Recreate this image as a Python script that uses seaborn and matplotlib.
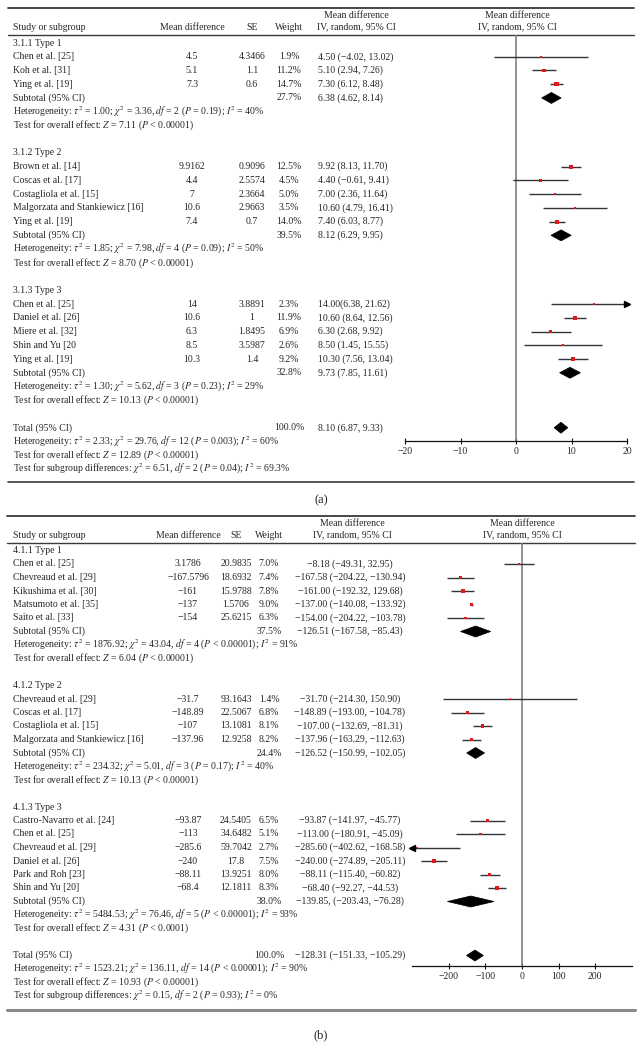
import numpy as np
import pandas as pd
import matplotlib
matplotlib.use("Agg")
import matplotlib.pyplot as plt
import seaborn as sns
from matplotlib.patches import Polygon

sns.set_theme(style="white")
plt.rcParams['font.family'] = ['Liberation Serif', 'DejaVu Serif']
plt.rcParams['mathtext.fontset'] = 'stix'
plt.rcParams['axes.unicode_minus'] = True

W, H, DPI = 643, 1053, 100
FS = 7.0
RED = "#e0181c"
LINE = "#333333"

# ------------------------------------------------------------------ panel (a) data
a_groups = ["3.1.1 Type 1", "3.1.2 Type 2", "3.1.3 Type 3"]
a_group_sizes = [3, 5, 5]
a_names = ["Chen et al. [25]", "Koh et al. [31]", "Ying et al. [19]",
           "Brown et al. [14]", "Coscas et al. [17]", "Costagliola et al. [15]",
           "Malgorzata and Stankiewicz [16]", "Ying et al. [19]",
           "Chen et al. [25]", "Daniel et al. [26]", "Miere et al. [32]",
           "Shin and Yu [20", "Ying et al. [19]"]
a_md_text = ["4.5", "5.1", "7.3", "9.9162", "4.4", "7", "10.6", "7.4",
             "14", "10.6", "6.3", "8.5", "10.3"]
a_se_text = ["4.3466", "1.1", "0.6", "0.9096", "2.5574", "2.3664", "2.9663", "0.7",
             "3.8891", "1", "1.8495", "3.5987", "1.4"]
a_weight = [1.9, 11.2, 14.7, 12.5, 4.5, 5.0, 3.5, 14.0, 2.3, 11.9, 6.9, 2.6, 9.2]
a_est = [4.50, 5.10, 7.30, 9.92, 4.40, 7.00, 10.60, 7.40, 14.00, 10.60, 6.30, 8.50, 10.30]
a_lo = [-4.02, 2.94, 6.12, 8.13, -0.61, 2.36, 4.79, 6.03, 6.38, 8.64, 2.68, 1.45, 7.56]
a_hi = [13.02, 7.26, 8.48, 11.70, 9.41, 11.64, 16.41, 8.77, 21.62, 12.56, 9.92, 15.55, 13.04]
a_ci_text = ["4.50 (−4.02, 13.02)", "5.10 (2.94, 7.26)", "7.30 (6.12, 8.48)",
             "9.92 (8.13, 11.70)", "4.40 (−0.61, 9.41)", "7.00 (2.36, 11.64)",
             "10.60 (4.79, 16.41)", "7.40 (6.03, 8.77)",
             "14.00(6.38, 21.62)", "10.60 (8.64, 12.56)", "6.30 (2.68, 9.92)",
             "8.50 (1.45, 15.55)", "10.30 (7.56, 13.04)"]
a_sub_weight = [27.7, 39.5, 32.8]
a_sub_est = [6.38, 8.12, 9.73]
a_sub_lo = [4.62, 6.29, 7.85]
a_sub_hi = [8.14, 9.95, 11.61]
a_sub_ci_text = ["6.38 (4.62, 8.14)", "8.12 (6.29, 9.95)", "9.73 (7.85, 11.61)"]
a_het = [("1.00", "3.36", "2", "= 0.19", "40%"),
         ("1.85", "7.98", "4", "= 0.09", "50%"),
         ("1.30", "5.62", "3", "= 0.23", "29%")]
a_z = [("7.11", "< 0.00001"), ("8.70", "< 0.00001"), ("10.13", "< 0.00001")]
a_total_weight = 100.0
a_total_est, a_total_lo, a_total_hi = 8.10, 6.87, 9.33
a_total_ci_text = "8.10 (6.87, 9.33)"
a_total_het = ("2.33", "29.76", "12", "= 0.003", "60%")
a_total_z = ("12.89", "< 0.00001")
a_subgroup = ("6.51", "2", "= 0.04", "69.3%")
a_ticks = [-20, -10, 0, 10, 20]

# ------------------------------------------------------------------ panel (b) data
b_groups = ["4.1.1 Type 1", "4.1.2 Type 2", "4.1.3 Type 3"]
b_group_sizes = [5, 4, 6]
b_names = ["Chen et al. [25]", "Chevreaud et al. [29]", "Kikushima et al. [30]",
           "Matsumoto et al. [35]", "Saito et al. [33]",
           "Chevreaud et al. [29]", "Coscas et al. [17]", "Costagliola et al. [15]",
           "Malgorzata and Stankiewicz [16]",
           "Castro-Navarro et al. [24]", "Chen et al. [25]", "Chevreaud et al. [29]",
           "Daniel et al. [26]", "Park and Roh [23]", "Shin and Yu [20]"]
b_md_text = ["3.1786", "−167.5796", "−161", "−137", "−154",
             "−31.7", "−148.89", "−107", "−137.96",
             "−93.87", "−113", "−285.6", "−240", "−88.11", "−68.4"]
b_se_text = ["20.9835", "18.6932", "15.9788", "1.5706", "25.6215",
             "93.1643", "22.5067", "13.1081", "12.9258",
             "24.5405", "34.6482", "59.7042", "17.8", "13.9251", "12.1811"]
b_weight = [7.0, 7.4, 7.8, 9.0, 6.3, 1.4, 6.8, 8.1, 8.2, 6.5, 5.1, 2.7, 7.5, 8.0, 8.3]
b_est = [-8.18, -167.58, -161.00, -137.00, -154.00, -31.70, -148.89, -107.00, -137.96,
         -93.87, -113.00, -285.60, -240.00, -88.11, -68.40]
b_lo = [-49.31, -204.22, -192.32, -140.08, -204.22, -214.30, -193.00, -132.69, -163.29,
        -141.97, -180.91, -402.62, -274.89, -115.40, -92.27]
b_hi = [32.95, -130.94, -129.68, -133.92, -103.78, 150.90, -104.78, -81.31, -112.63,
        -45.77, -45.09, -168.58, -205.11, -60.82, -44.53]
b_ci_text = ["−8.18 (−49.31, 32.95)", "−167.58 (−204.22, −130.94)",
             "−161.00 (−192.32, 129.68)", "−137.00 (−140.08, −133.92)",
             "−154.00 (−204.22, −103.78)",
             "−31.70 (−214.30, 150.90)", "−148.89 (−193.00, −104.78)",
             "−107.00 (−132.69, −81.31)", "−137.96 (−163.29, −112.63)",
             "−93.87 (−141.97, −45.77)", "−113.00 (−180.91, −45.09)",
             "−285.60 (−402.62, −168.58)", "−240.00 (−274.89, −205.11)",
             "−88.11 (−115.40, −60.82)", "−68.40 (−92.27, −44.53)"]
b_sub_weight = [37.5, 24.4, 38.0]
b_sub_est = [-126.51, -126.52, -139.85]
b_sub_lo = [-167.58, -150.99, -203.43]
b_sub_hi = [-85.43, -102.05, -76.28]
b_sub_ci_text = ["−126.51 (−167.58, −85.43)", "−126.52 (−150.99, −102.05)",
                 "−139.85, (−203.43, −76.28)"]
b_het = [("1876.92", "43.04", "4", "< 0.00001", "91%"),
         ("234.32", "5.01", "3", "= 0.17", "40%"),
         ("5484.53", "76.46", "5", "< 0.00001", "93%")]
b_z = [("6.04", "< 0.00001"), ("10.13", "< 0.00001"), ("4.31", "< 0.0001")]
b_total_weight = 100.0
b_total_est, b_total_lo, b_total_hi = -128.31, -151.33, -105.29
b_total_ci_text = "−128.31 (−151.33, −105.29)"
b_total_het = ("1523.21", "136.11", "14", "< 0.00001", "90%")
b_total_z = ("10.93", "< 0.00001")
b_subgroup = ("0.15", "2", "= 0.93", "0%")
b_ticks = [-200, -100, 0, 100, 200]


def het_str(h):
    tau, chi, df, p, i2 = h
    return (r"Heterogeneity: $\tau^2$ = " + tau + r"; $\chi^2$ = " + chi +
            r", $df$ = " + df + r" ($P$ " + p + r"); $I^2$ = " + i2)


def z_str(z):
    return r"Test for overall effect: $Z$ = " + z[0] + r" ($P$ " + z[1] + ")"


def sub_str(s):
    chi, df, p, i2 = s
    return (r"Test for subgroup differences: $\chi^2$ = " + chi + r", $df$ = " + df +
            r" ($P$ " + p + r"); $I^2$ = " + i2)


def layout_rows(sizes):
    rows, s = [], 0
    for g, n in enumerate(sizes):
        rows.append(("group", g))
        for _ in range(n):
            rows.append(("study", s))
            s += 1
        rows += [("sub", g), ("het", g), ("test", g), ("blank", g)]
    rows += [("total", 0), ("thet", 0), ("ttest", 0), ("tsub", 0)]
    return rows


fig = plt.figure(figsize=(W / DPI, H / DPI), dpi=DPI)
bg = fig.add_axes([0, 0, 1, 1])
bg.set_xlim(0, W)
bg.set_ylim(H, 0)
bg.axis("off")


def draw_panel(D, L):
    # rules
    bg.plot([L["xl"], L["xr"]], [L["top"], L["top"]], color="#3a3a3a", lw=1.3)
    bg.plot([L["xl"], L["xr"]], [L["hdr"], L["hdr"]], color="#3a3a3a", lw=1.0)
    bg.plot([L["xl"], L["xr"]], [L["bot"], L["bot"]], color=L["botc"], lw=L["botw"])
    # headers
    h1, h2 = L["hdr"] - 20, L["hdr"] - 8
    bg.text(13, h2, "Study or subgroup", fontsize=FS, ha="left", va="center")
    bg.text(L["c_md"], h2, "Mean difference", fontsize=FS, ha="center", va="center")
    bg.text(L["c_se"], h2, "SE", fontsize=FS, ha="center", va="center")
    bg.text(L["c_w"], h2, "Weight", fontsize=FS, ha="center", va="center")
    bg.text(L["c_cih"], h1, "Mean difference", fontsize=FS, ha="center", va="center")
    bg.text(L["c_cih"], h2, "IV, random, 95% CI", fontsize=FS, ha="center", va="center")
    bg.text(L["c_plot"], h1, "Mean difference", fontsize=FS, ha="center", va="center")
    bg.text(L["c_plot"], h2, "IV, random, 95% CI", fontsize=FS, ha="center", va="center")
    bg.text(321, L["label_y"], L["label"], fontsize=9, ha="center", va="center")

    # forest axes, y data = figure pixels
    px0, px1 = L["px"]
    ax = fig.add_axes([px0 / W, 1 - L["axis_y"] / H, (px1 - px0) / W,
                       (L["axis_y"] - L["hdr"]) / H])
    ax.set_facecolor("none")
    ax.set_xlim(*D["xlim"])
    ax.set_ylim(L["axis_y"], L["hdr"])
    for sp in ["left", "right", "top"]:
        ax.spines[sp].set_visible(False)
    ax.spines["bottom"].set_color("#111111")
    ax.spines["bottom"].set_linewidth(0.9)
    ax.set_yticks([])
    ax.set_xticks(D["ticks"])
    ax.tick_params(axis="x", direction="inout", length=5, width=0.8, color="#111111",
                   labelsize=FS, pad=1.5, bottom=True)
    ax.axvline(0, color="#808080", lw=1.2, zorder=1)

    rows = layout_rows(D["sizes"])
    ys = {}
    study_y = []
    sub_y = []
    for r, (kind, idx) in enumerate(rows):
        y = L["y0"] + r * L["dy"]
        if kind == "group":
            bg.text(13, y, D["groups"][idx], fontsize=FS, ha="left", va="center")
        elif kind == "study":
            study_y.append(y)
            bg.text(13, y, D["names"][idx], fontsize=FS, ha="left", va="center")
            bg.text(L["c_md"], y, D["md"][idx], fontsize=FS, ha="center", va="center")
            bg.text(L["c_se"], y, D["se"][idx], fontsize=FS, ha="center", va="center")
            bg.text(L["c_w"], y, f"{D['w'][idx]:.1f}%", fontsize=FS, ha="center", va="center")
            bg.text(L["c_ci"], y, D["ci"][idx], fontsize=FS, ha=L["ci_ha"], va="center")
        elif kind == "sub":
            sub_y.append(y)
            bg.text(13, y, "Subtotal (95% CI)", fontsize=FS, ha="left", va="center")
            bg.text(L["c_w"], y, f"{D['sw'][idx]:.1f}%", fontsize=FS, ha="center", va="center")
            bg.text(L["c_ci"], y, D["sci"][idx], fontsize=FS, ha=L["ci_ha"], va="center")
        elif kind == "het":
            bg.text(13, y, het_str(D["het"][idx]), fontsize=FS, ha="left", va="center")
        elif kind == "test":
            bg.text(13, y, z_str(D["z"][idx]), fontsize=FS, ha="left", va="center")
        elif kind == "total":
            ys["total"] = y
            bg.text(13, y, "Total (95% CI)", fontsize=FS, ha="left", va="center")
            bg.text(L["c_w"], y, f"{D['tw']:.1f}%", fontsize=FS, ha="center", va="center")
            bg.text(L["c_ci"], y, D["tci"], fontsize=FS, ha=L["ci_ha"], va="center")
        elif kind == "thet":
            bg.text(13, y, het_str(D["thet"]), fontsize=FS, ha="left", va="center")
        elif kind == "ttest":
            bg.text(13, y, z_str(D["tz"]), fontsize=FS, ha="left", va="center")
        elif kind == "tsub":
            bg.text(13, y, sub_str(D["tsub"]), fontsize=FS, ha="left", va="center")

    xmin, xmax = D["xlim"]
    # CI lines
    for y, lo, hi in zip(study_y, D["lo"], D["hi"]):
        ax.hlines(y, max(lo, xmin), min(hi, xmax), color=LINE, lw=1.0, zorder=2)
        if hi > xmax:
            ax.plot([xmax], [y], marker=">", ms=3.8, color="black", clip_on=False, zorder=3)
        if lo < xmin:
            ax.plot([xmin], [y], marker="<", ms=3.8, color="black", clip_on=False, zorder=3)
    # squares via seaborn
    df = pd.DataFrame({"est": D["est"], "y": study_y, "weight": D["w"]})
    sns.scatterplot(data=df, x="est", y="y", size="weight", size_norm=(0, 15),
                    sizes=(0, 15 * 0.65), marker="s", color=RED, linewidth=0,
                    legend=False, ax=ax, zorder=4, clip_on=False)
    ax.set_xlabel("")
    ax.set_ylabel("")
    ax.set_ylim(L["axis_y"], L["hdr"])
    # diamonds
    hh = 5.5
    diam = list(zip(sub_y, D["sest"], D["slo"], D["shi"])) + \
        [(ys["total"], D["test_"], D["tlo"], D["thi"])]
    for y, e, lo, hi in diam:
        ax.add_patch(Polygon([(lo, y), (e, y - hh), (hi, y), (e, y + hh)],
                             closed=True, facecolor="black", edgecolor="black",
                             lw=0.5, zorder=5))
    return ax


A = dict(groups=a_groups, sizes=a_group_sizes, names=a_names, md=a_md_text, se=a_se_text,
         w=a_weight, est=a_est, lo=a_lo, hi=a_hi, ci=a_ci_text, sw=a_sub_weight,
         sest=a_sub_est, slo=a_sub_lo, shi=a_sub_hi, sci=a_sub_ci_text, het=a_het, z=a_z,
         tw=a_total_weight, test_=a_total_est, tlo=a_total_lo, thi=a_total_hi,
         tci=a_total_ci_text, thet=a_total_het, tz=a_total_z, tsub=a_subgroup,
         ticks=a_ticks, xlim=(-20, 20))
LA = dict(top=7.5, hdr=35, bot=482, botc="#3a3a3a", botw=1.2, xl=8, xr=634,
          c_md=192, c_se=252, c_w=289, c_ci=318, ci_ha="left", c_cih=356, c_plot=517,
          label="(a)", label_y=500, px=(405, 627), axis_y=441, y0=43, dy=13.74)

B = dict(groups=b_groups, sizes=b_group_sizes, names=b_names, md=b_md_text, se=b_se_text,
         w=b_weight, est=b_est, lo=b_lo, hi=b_hi, ci=b_ci_text, sw=b_sub_weight,
         sest=b_sub_est, slo=b_sub_lo, shi=b_sub_hi, sci=b_sub_ci_text, het=b_het, z=b_z,
         tw=b_total_weight, test_=b_total_est, tlo=b_total_lo, thi=b_total_hi,
         tci=b_total_ci_text, thet=b_total_het, tz=b_total_z, tsub=b_subgroup,
         ticks=b_ticks, xlim=(-300, 300))
LB = dict(top=515.5, hdr=543, bot=1010, botc="#8a8a8a", botw=2.2, xl=7, xr=635,
          c_md=188, c_se=236, c_w=269, c_ci=350, ci_ha="center", c_cih=352, c_plot=522,
          label="(b)", label_y=1035, px=(412, 632), axis_y=966, y0=550.5, dy=13.5)

draw_panel(A, LA)
draw_panel(B, LB)

fig.savefig("out.png", dpi=DPI, facecolor="white")
